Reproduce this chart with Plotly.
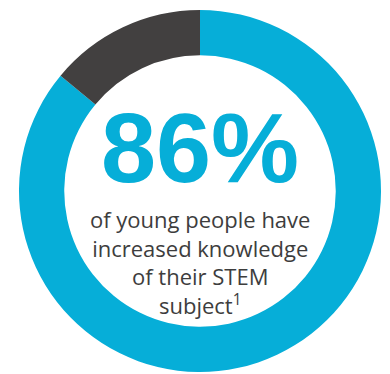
import plotly.graph_objects as go

labels = ["Increased knowledge", "Not increased"]
values = [86, 14]
colors = ["#06AED8", "#424040"]
headline = "86%"
caption_lines = ["of young people have", "increased knowledge", "of their STEM", "subject<sup>1</sup>"]

W, H = 390, 374
fig = go.Figure(go.Pie(
    labels=labels, values=values, hole=0.75, sort=False,
    direction="clockwise", rotation=0,
    marker=dict(colors=colors, line=dict(width=0)),
    textinfo="none", hoverinfo="none", showlegend=False,
    domain=dict(x=[18/W, 382/W], y=[1-372/H, 1-10/H]),
))
fig.add_annotation(x=200/W, y=1-147/H, xref="paper", yref="paper",
                   text="<b>%s</b>" % headline, showarrow=False,
                   font=dict(family="Liberation Sans", size=99, color="#06AED8"),
                   xanchor="center", yanchor="middle")
fig.add_annotation(x=200/W, y=1-262/H, xref="paper", yref="paper",
                   text="<br>".join(caption_lines), showarrow=False,
                   font=dict(family="Open Sans", size=22, color="#3d3d3d"),
                   xanchor="center", yanchor="middle", align="center")
fig.update_layout(width=W, height=H, margin=dict(l=0, r=0, t=0, b=0),
                  paper_bgcolor="white", plot_bgcolor="white")
fig.write_html("out.html")
